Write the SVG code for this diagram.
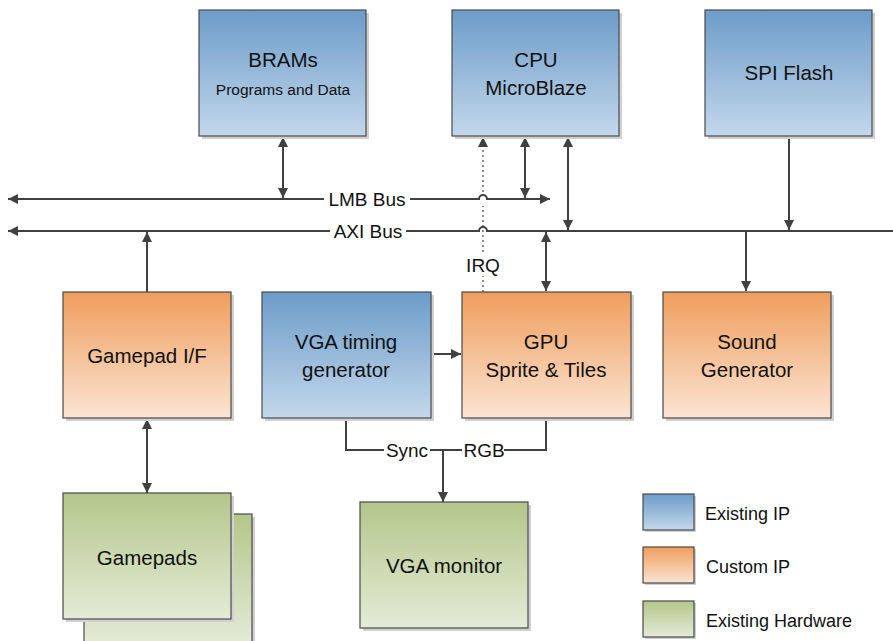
<svg xmlns="http://www.w3.org/2000/svg" width="893" height="641" viewBox="0 0 893 641">
<defs>
<linearGradient id="gBlue" x1="0" y1="0" x2="0" y2="1"><stop offset="0" stop-color="#6c9cc9"/><stop offset="1" stop-color="#c3d7eb"/></linearGradient>
<linearGradient id="gOrange" x1="0" y1="0" x2="0" y2="1"><stop offset="0" stop-color="#ef9d5c"/><stop offset="1" stop-color="#fbe4d3"/></linearGradient>
<linearGradient id="gGreen" x1="0" y1="0" x2="0" y2="1"><stop offset="0" stop-color="#b3c68a"/><stop offset="1" stop-color="#e4ebd7"/></linearGradient>
<marker id="ah" viewBox="0 0 10 10" refX="10" refY="5" markerWidth="10" markerHeight="10" markerUnits="userSpaceOnUse" orient="auto-start-reverse"><path d="M0,0 L10,5 L0,10 z" fill="#404040"/></marker>
</defs>
<style>
.box{stroke:#4a4a4a;stroke-width:1.2}
.sh{fill:#d0d0d0}
.blue{fill:url(#gBlue)}
.orange{fill:url(#gOrange)}
.green{fill:url(#gGreen)}
text{font-family:"Liberation Sans","Open Sans",Arial,sans-serif;fill:#111;text-anchor:middle}
.lbl{font-size:20.5px}
.sm{font-size:15.5px}
.bus{font-size:19px}
.leg{font-size:18px;text-anchor:start}
.ln{stroke:#404040;stroke-width:2;fill:none}
.dot{stroke:#404040;stroke-width:1.2;stroke-dasharray:2 3;fill:none}
</style>
<rect width="893" height="641" fill="#fff"/>

<g id="connectors">
<path class="ln" d="M8,199 H479 A4,4 0 0 1 487,199 H550" marker-start="url(#ah)" marker-end="url(#ah)"/>
<path class="ln" d="M8,231 H479 A4,4 0 0 1 487,231 H893" marker-start="url(#ah)"/>
<rect x="324" y="188" width="86" height="22" fill="#fff"/>
<rect x="330" y="220" width="76" height="22" fill="#fff"/>
<text class="bus" x="367" y="206">LMB Bus</text>
<text class="bus" x="368" y="238">AXI Bus</text>
<line class="ln" x1="283" y1="137" x2="283" y2="198" marker-start="url(#ah)" marker-end="url(#ah)"/>
<line class="dot" x1="483" y1="292" x2="483" y2="206"/>
<line class="dot" x1="483" y1="192" x2="483" y2="137" marker-end="url(#ah)"/>
<line class="ln" x1="525" y1="137" x2="525" y2="198" marker-start="url(#ah)" marker-end="url(#ah)"/>
<line class="ln" x1="568" y1="137" x2="568" y2="230" marker-start="url(#ah)" marker-end="url(#ah)"/>
<line class="ln" x1="789" y1="136" x2="789" y2="230" marker-end="url(#ah)"/>
<line class="ln" x1="147" y1="292" x2="147" y2="232" marker-end="url(#ah)"/>
<line class="ln" x1="546" y1="232" x2="546" y2="291" marker-start="url(#ah)" marker-end="url(#ah)"/>
<line class="ln" x1="746" y1="231" x2="746" y2="291" marker-end="url(#ah)"/>
<line class="ln" x1="431" y1="354" x2="461" y2="354" marker-end="url(#ah)"/>
<line class="ln" x1="147" y1="419" x2="147" y2="493" marker-start="url(#ah)" marker-end="url(#ah)"/>
<path class="ln" d="M346,418 V450 H546 V418"/>
<line class="ln" x1="443" y1="450" x2="443" y2="502" marker-end="url(#ah)"/>
<rect x="384" y="439" width="46" height="22" fill="#fff"/>
<rect x="462" y="439" width="42" height="22" fill="#fff"/>
<text class="bus" x="407" y="457">Sync</text>
<text class="bus" x="484" y="457">RGB</text>
<rect x="466" y="254" width="34" height="22" fill="#fff"/>
<text class="bus" x="483" y="272">IRQ</text>
</g>

<g id="brams">
<rect class="sh" x="202" y="13" width="167" height="126"/>
<rect class="box blue" x="199" y="10" width="167" height="126"/>
<text class="lbl" x="283" y="67">BRAMs</text>
<text class="sm" x="283" y="95">Programs and Data</text>
</g>
<g id="cpu">
<rect class="sh" x="455" y="13" width="167" height="126"/>
<rect class="box blue" x="452" y="10" width="167" height="126"/>
<text class="lbl" x="536" y="67">CPU</text>
<text class="lbl" x="536" y="95">MicroBlaze</text>
</g>
<g id="spiflash">
<rect class="sh" x="708" y="13" width="167" height="126"/>
<rect class="box blue" x="705" y="10" width="167" height="126"/>
<text class="lbl" x="789" y="80">SPI Flash</text>
</g>
<g id="gamepadif">
<rect class="sh" x="66" y="295" width="168" height="126"/>
<rect class="box orange" x="63" y="292" width="168" height="126"/>
<text class="lbl" x="147" y="363">Gamepad I/F</text>
</g>
<g id="vgatiming">
<rect class="sh" x="265" y="295" width="169" height="126"/>
<rect class="box blue" x="262" y="292" width="169" height="126"/>
<text class="lbl" x="346" y="349">VGA timing</text>
<text class="lbl" x="346" y="377">generator</text>
</g>
<g id="gpu">
<rect class="sh" x="465" y="295" width="169" height="126"/>
<rect class="box orange" x="462" y="292" width="169" height="126"/>
<text class="lbl" x="546" y="349">GPU</text>
<text class="lbl" x="546" y="377">Sprite &amp; Tiles</text>
</g>
<g id="sound">
<rect class="sh" x="666" y="295" width="168" height="126"/>
<rect class="box orange" x="663" y="292" width="168" height="126"/>
<text class="lbl" x="747" y="349">Sound</text>
<text class="lbl" x="747" y="377">Generator</text>
</g>
<g id="gamepads">
<rect class="sh" x="87" y="517" width="168" height="130"/>
<rect class="box green" x="84" y="514" width="168" height="130"/>
<rect class="sh" x="66" y="496" width="168" height="126"/>
<rect class="box green" x="63" y="493" width="168" height="126"/>
<text class="lbl" x="147" y="565">Gamepads</text>
</g>
<g id="vgamonitor">
<rect class="sh" x="363" y="505" width="168" height="126"/>
<rect class="box green" x="360" y="502" width="168" height="126"/>
<text class="lbl" x="444" y="573">VGA monitor</text>
</g>
<g id="legend">
<rect class="sh" x="645" y="496" width="51" height="36"/>
<rect class="box blue" x="643" y="494" width="51" height="36"/>
<text class="leg" x="705" y="520">Existing IP</text>
<rect class="sh" x="645" y="549" width="51" height="36"/>
<rect class="box orange" x="643" y="547" width="51" height="36"/>
<text class="leg" x="706" y="573">Custom IP</text>
<rect class="sh" x="645" y="603" width="51" height="36"/>
<rect class="box green" x="643" y="601" width="51" height="36"/>
<text class="leg" x="706" y="627">Existing Hardware</text>
</g>
</svg>
